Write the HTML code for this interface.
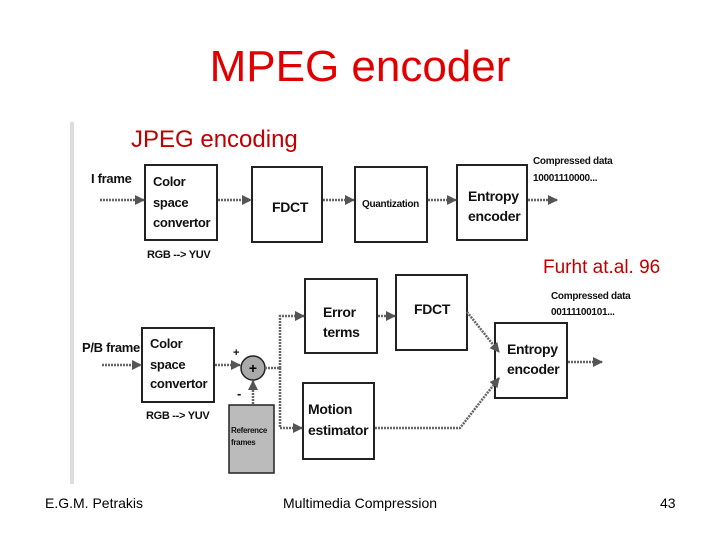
<!DOCTYPE html>
<html><head><style>
body{margin:0;background:#fff;width:720px;height:540px;overflow:hidden;position:relative;font-family:"Liberation Sans",sans-serif}
.t{position:absolute;white-space:nowrap}
</style></head><body>
<div class="t" style="left:0;width:720px;top:42px;text-align:center;font-size:44px;color:#e00000;font-family:'Liberation Sans',sans-serif">MPEG encoder</div>
<div class="t" style="left:131px;top:126px;font-size:24px;color:#c00000">JPEG encoding</div>
<div class="t" style="left:543px;top:257px;font-size:19px;color:#c00000">Furht at.al. 96</div>
<div class="t" style="left:45px;top:495px;font-size:14px">E.G.M. Petrakis</div>
<div class="t" style="left:283px;top:495px;font-size:14px">Multimedia Compression</div>
<div class="t" style="left:660px;top:495px;font-size:14px">43</div>
<svg width="720" height="540" style="position:absolute;left:0;top:0" font-family="Liberation Sans, sans-serif" font-weight="bold">
<defs><marker id="a" markerWidth="10" markerHeight="10" refX="9" refY="5" orient="auto" markerUnits="userSpaceOnUse"><path d="M0,0L10,5L0,10z" fill="#555"/></marker></defs>
<rect x="70" y="122" width="4" height="362" fill="#ddd"/>
<g fill="none" stroke="#222" stroke-width="2">
<rect x="145" y="165" width="72" height="75"/><rect x="252" y="167" width="70" height="75"/>
<rect x="355" y="167" width="72" height="75"/><rect x="457" y="165" width="70" height="75"/>
<rect x="305" y="279" width="72" height="74"/><rect x="396" y="275" width="71" height="75"/>
<rect x="495" y="323" width="72" height="75"/><rect x="142" y="328" width="72" height="74"/>
<rect x="303" y="383" width="71" height="76"/>
</g>
<rect x="229" y="405" width="45" height="68" fill="#bbb" stroke="#222" stroke-width="1.5"/>
<circle cx="253" cy="368" r="12" fill="#aaa" stroke="#222" stroke-width="1.5"/>
<text x="253" y="373" font-size="14" text-anchor="middle">+</text>
<g stroke="#666" stroke-width="2.5" stroke-dasharray="2,1" fill="none" marker-end="url(#a)">
<line x1="100" y1="200" x2="144" y2="200"/><line x1="218" y1="200" x2="251" y2="200"/>
<line x1="323" y1="200" x2="354" y2="200"/><line x1="428" y1="200" x2="456" y2="200"/>
<line x1="528" y1="200" x2="557" y2="200"/>
<line x1="102" y1="365" x2="141" y2="365"/><line x1="215" y1="365" x2="240" y2="365"/>
<line x1="253" y1="404" x2="253" y2="381"/>
<polyline points="265,368 280,368 280,316 304,316"/>
<polyline points="280,368 280,428 302,428"/>
<line x1="378" y1="316" x2="395" y2="316"/>
<line x1="467" y1="312" x2="499" y2="352"/>
<polyline points="375,428 460,428 499,378"/>
<line x1="568" y1="362" x2="602" y2="362"/>
</g>
<g font-size="13" fill="#111" letter-spacing="-0.3">
<text x="91" y="183">I frame</text>
<text x="153" y="186">Color</text><text x="153" y="207">space</text><text x="153" y="227">convertor</text>
<text x="272" y="212" font-size="14">FDCT</text>
<text x="362" y="207" font-size="10">Quantization</text>
<text x="468" y="201" font-size="14">Entropy</text><text x="468" y="221" font-size="14">encoder</text>
<text x="147" y="258" font-size="11">RGB --&gt; YUV</text>
<text x="533" y="164" font-size="10">Compressed data</text><text x="533" y="181" font-size="10">10001110000...</text>
<text x="551" y="299" font-size="10">Compressed data</text><text x="551" y="315" font-size="10">00111100101...</text>
<text x="323" y="317" font-size="14">Error</text><text x="323" y="337" font-size="14">terms</text>
<text x="414" y="314" font-size="14">FDCT</text>
<text x="507" y="354" font-size="14">Entropy</text><text x="507" y="374" font-size="14">encoder</text>
<text x="82" y="352">P/B frame</text>
<text x="150" y="348">Color</text><text x="150" y="369">space</text><text x="150" y="388">convertor</text>
<text x="146" y="419" font-size="11">RGB --&gt; YUV</text>
<text x="308" y="414" font-size="14">Motion</text><text x="308" y="435" font-size="14">estimator</text>
<text x="233" y="356" font-size="11">+</text><text x="237" y="398" font-size="13">-</text>
<text x="231" y="433" font-size="8">Reference</text><text x="231" y="445" font-size="8">frames</text>
</g>
</svg>
</body></html>
